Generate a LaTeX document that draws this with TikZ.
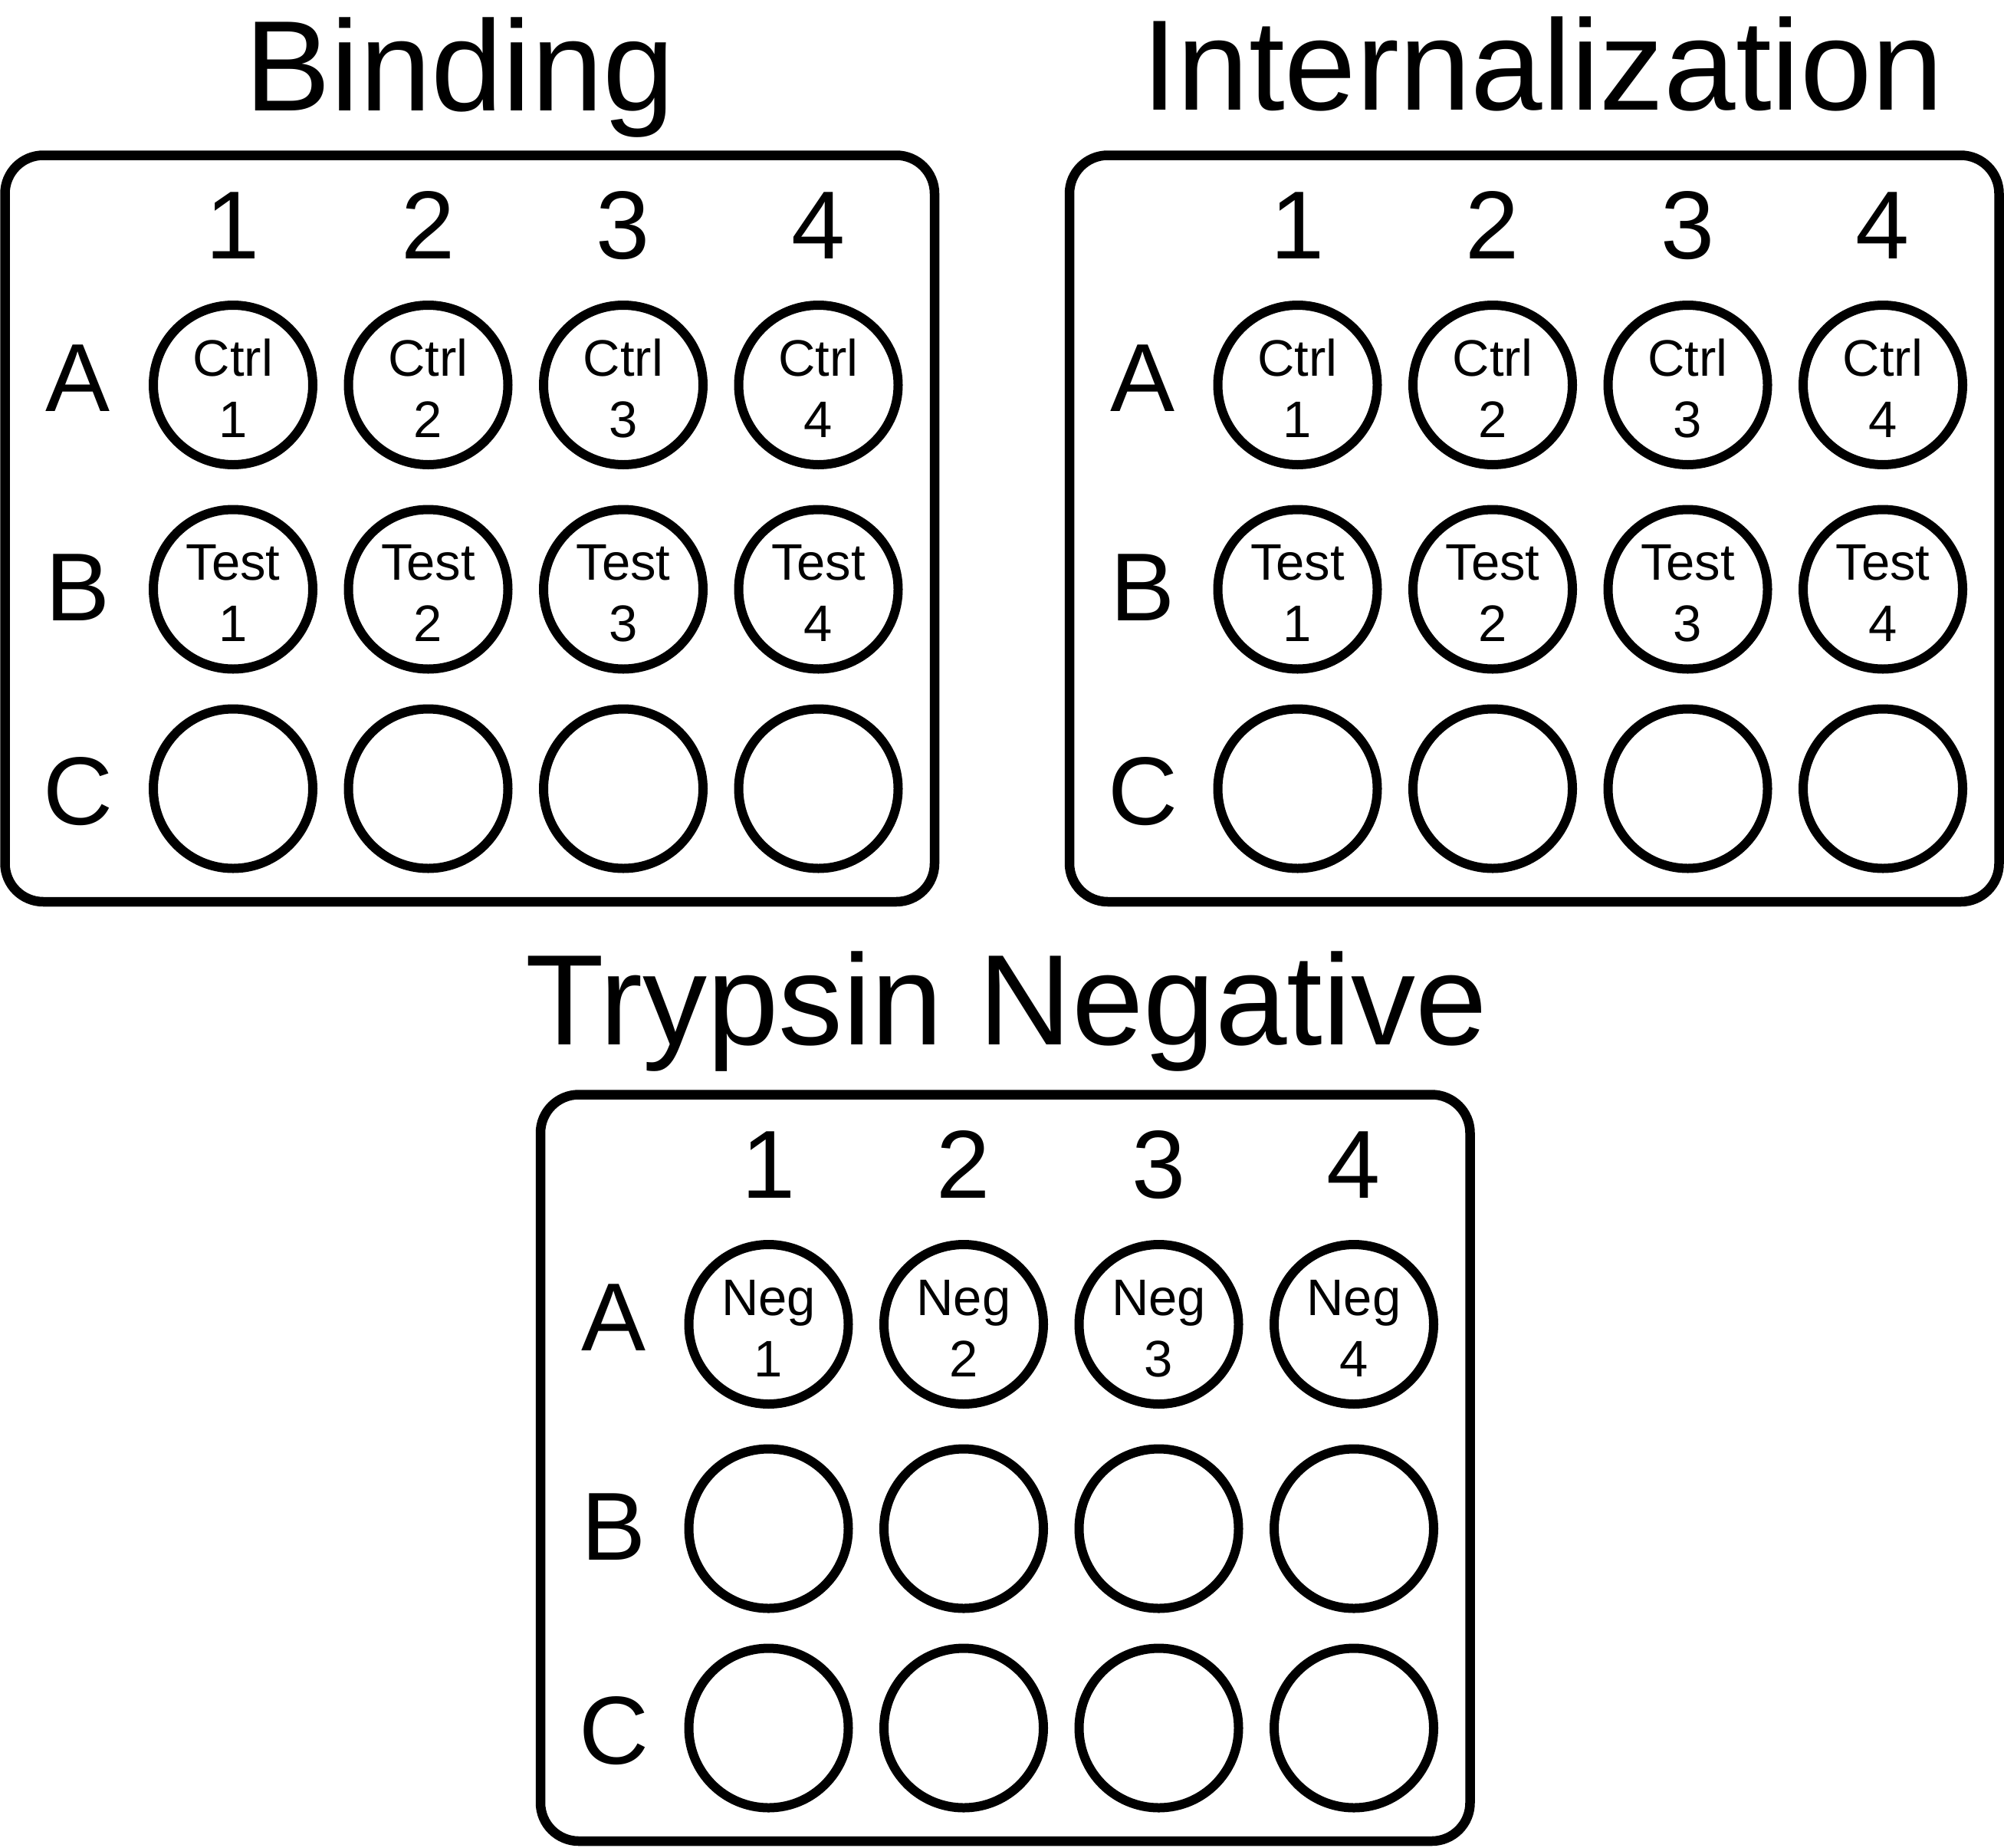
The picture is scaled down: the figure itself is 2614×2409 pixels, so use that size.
\documentclass[tikz,border=0pt]{standalone}
\usepackage{fontspec}
\setmainfont{Liberation Sans}
\newcommand\plate[2]{% #1 name prefix, #2 shift
  \begin{scope}[shift={#2}]
    \node[frame] (#1-frame) at (612.75,689.25) {};
    \foreach \c/\x in {1/304,2/558.5,3/813,4/1067.5} {
      \node[colnum] (#1-col\c) at (\x,337) {\c};
      \foreach \r/\y in {A/502,B/768.5,C/1028.5} {
        \node[well] (#1-\r\c) at (\x,\y) {};
      }
    }
    \node[rowlab] (#1-rowA) at (102,536) {A};
    \node[rowlab] (#1-rowB) at (102,809) {B};
    \node[rowlab] (#1-rowC) at (102,1075) {C};
  \end{scope}}
\newcommand\welltexts[4]{% #1 prefix, #2 shift, #3 row centre y, #4 word
  \begin{scope}[shift={#2}]
    \foreach \c/\x in {1/304,2/558.5,3/813,4/1067.5} {
      \node[welltext] (#1-w\c) at (\x,#3-12) {#4};
      \node[welltext] (#1-n\c) at (\x,#3+68) {\c};
    }
  \end{scope}}
\begin{document}
\begin{tikzpicture}[x=1pt,y=-1pt,
  frame/.style={draw=black, line width=12.5pt, rounded corners=50pt, inner sep=0pt,
    minimum width=1212.5pt, minimum height=973.5pt},
  well/.style={draw=black, circle, line width=12pt, inner sep=0pt, minimum size=208pt},
  titletext/.style={anchor=base, inner sep=0pt, font=\fontsize{168}{200}\selectfont},
  colnum/.style={anchor=base, inner sep=0pt, font=\fontsize{126}{150}\selectfont},
  rowlab/.style={anchor=base, inner sep=0pt, font=\fontsize{126}{150}\selectfont},
  welltext/.style={anchor=base, inner sep=0pt, font=\fontsize{67}{80}\selectfont}]
  \useasboundingbox (0,0) rectangle (2614,2409);
  % titles
  \node[titletext] (t-bind) at (600,144) {Binding};
  \node[titletext] (t-int) at (2012,143) {Internalization};
  \node[titletext] (t-tryp) at (1313,1362.5) {Trypsin Negative};
  % plates
  \plate{bind}{(0,0)}
  \plate{int}{(1388.5,0)}
  \plate{tryp}{(698.5,1225)}
  % well labels
  \welltexts{bindA}{(0,0)}{502}{Ctrl}
  \welltexts{bindB}{(0,0)}{768.5}{Test}
  \welltexts{intA}{(1388.5,0)}{502}{Ctrl}
  \welltexts{intB}{(1388.5,0)}{768.5}{Test}
  \welltexts{trypA}{(698.5,1225)}{502}{Neg}
\end{tikzpicture}
\end{document}
